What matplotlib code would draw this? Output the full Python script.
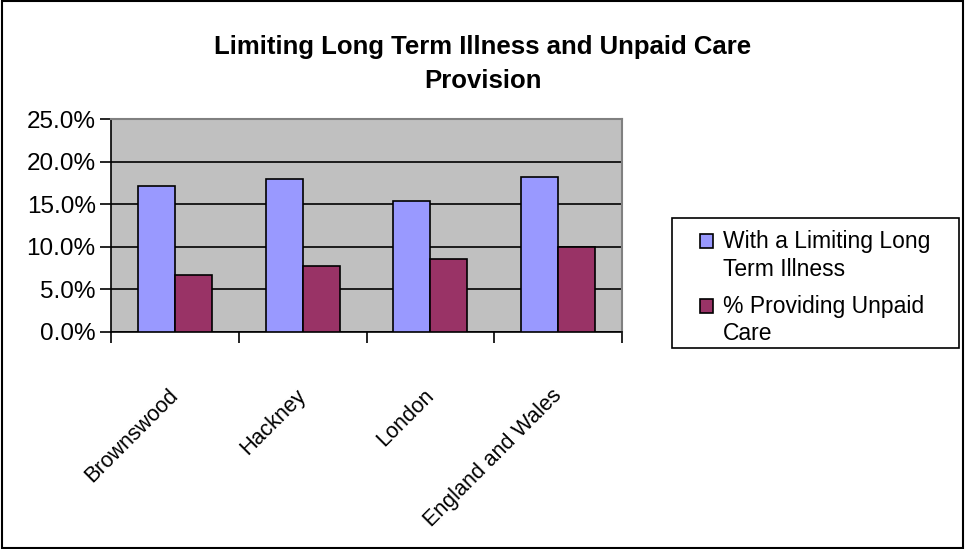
import numpy as np
import matplotlib.pyplot as plt
import matplotlib.transforms as mtransforms
from matplotlib.patches import Rectangle
from matplotlib.ticker import FuncFormatter, MultipleLocator

plt.rcParams['font.family'] = ['Liberation Sans', 'DejaVu Sans']

# data
areas = ['Brownswood', 'Hackney', 'London', 'England and Wales']
illness = [17.1, 18.0, 15.4, 18.2]
unpaid_care = [6.7, 7.7, 8.6, 10.0]
series_names = ['With a Limiting Long\nTerm Illness', '% Providing Unpaid\nCare']

W, H = 965, 549
fig = plt.figure(figsize=(W / 100, H / 100), dpi=100)
# outer frame
fig.patches.append(Rectangle((0.002, 0.002), 0.996, 0.996, transform=fig.transFigure,
                             fill=False, edgecolor='black', linewidth=1.5))

ax = fig.add_axes([111 / W, 1 - 332 / H, (622 - 111) / W, (332 - 119) / H])
ax.set_facecolor('#C0C0C0')

x = np.arange(len(areas))
w = 0.29
ax.bar(x - w / 2, illness, w, color='#9999FF', edgecolor='black', linewidth=1.2,
       label=series_names[0], zorder=3)
ax.bar(x + w / 2, unpaid_care, w, color='#993366', edgecolor='black', linewidth=1.2,
       label=series_names[1], zorder=3)

ax.set_xlim(-0.5, len(areas) - 0.5)
ax.set_ylim(0, 25)
ax.yaxis.set_major_locator(MultipleLocator(5))
ax.yaxis.set_major_formatter(FuncFormatter(lambda v, p: f'{v:.1f}%'))
ax.grid(axis='y', color='black', linewidth=1.2, zorder=1)

# ticks on category boundaries, labels at centres
ax.set_xticks(np.arange(-0.5, len(areas), 1.0))
ax.set_xticklabels([])
ax.set_xticks(x, minor=True)
ax.set_xticklabels(areas, minor=True, rotation=45, ha='right', va='top',
                   rotation_mode='anchor', fontsize=15.5)
ax.tick_params(axis='x', which='minor', length=0, pad=38)
ax.tick_params(axis='x', which='major', length=8, width=1.2, direction='out')
ax.tick_params(axis='y', length=8, width=1.2, direction='out', labelsize=17.5, pad=3)
# nudge the rotated labels a little to the left
shift = mtransforms.ScaledTranslation(-7 / 100, 0, fig.dpi_scale_trans)
for lab in ax.get_xticklabels(minor=True):
    lab.set_transform(lab.get_transform() + shift)

for s in ['left', 'bottom']:
    ax.spines[s].set_linewidth(1.2)
    ax.spines[s].set_color('black')
for s in ['top', 'right']:
    ax.spines[s].set_color('#808080')
    ax.spines[s].set_linewidth(1.5)

fig.text(0.5, 1 - 64 / H, 'Limiting Long Term Illness and Unpaid Care\nProvision',
         ha='center', va='center', fontsize=18.5, fontweight='bold', linespacing=1.5)

# legend box drawn separately so the padding can be wider on the sides
fig.patches.append(Rectangle((672 / W, 1 - 348 / H), (959 - 672) / W, (348 - 218) / H,
                             transform=fig.transFigure, fill=False,
                             edgecolor='black', linewidth=1.2))
leg = fig.legend(loc='upper left', bbox_to_anchor=(700 / W, 1 - 230 / H),
                 fontsize=16.5, frameon=False,
                 handlelength=0.55, handleheight=0.55, handletextpad=0.45,
                 borderpad=0, labelspacing=0.6, borderaxespad=0)
for t in leg.get_texts():
    t.set_linespacing(1.27)
# put the square beside the first line of each label
for hnd in leg.legend_handles:
    hnd.set_y(hnd.get_y() + 11)

fig.savefig('out.png', dpi=100)
